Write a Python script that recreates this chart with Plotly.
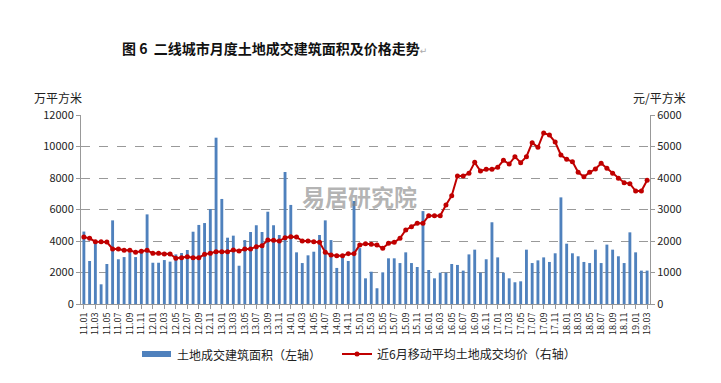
import plotly.graph_objects as go

months = [f"{y:02d}.{m:02d}" for y in range(11, 20) for m in range(1, 13)][:99]

area = [4600, 2730, 3950, 1250, 2540, 5310, 2840, 2980, 3280, 2980, 3320, 5690,
        2620, 2620, 2790, 2690, 3150, 3240, 3430, 4590, 5020, 5140, 6030, 10560,
        6670, 4210, 4340, 2430, 4060, 4570, 5000, 4570, 5860, 5000, 4380, 8380,
        6290, 3280, 2600, 3090, 3320, 4380, 5310, 4060, 2290, 2940, 2730, 6540,
        3550, 1630, 2050, 1000, 2010, 2900, 2900, 2600, 3280, 2600, 2350, 5900,
        2160, 1630, 1990, 1990, 2540, 2480, 2120, 3150, 3450, 1990, 2840, 5190,
        2960, 1990, 1630, 1380, 1440, 3450, 2600, 2770, 2960, 2670, 3220, 6770,
        3830, 3220, 3030, 2670, 2600, 3450, 2600, 3770, 3450, 3030, 2600, 4550,
        3280, 2120, 2120]

price = [2127, 2085, 1979, 1979, 1968, 1746, 1746, 1704, 1704, 1640, 1672, 1704,
         1608, 1608, 1587, 1587, 1450, 1471, 1503, 1471, 1471, 1577, 1608, 1661,
         1661, 1661, 1714, 1683, 1746, 1746, 1820, 1852, 2032, 2021, 2000, 2106,
         2138, 2127, 2000, 2000, 1979, 1958, 1640, 1556, 1534, 1534, 1598, 1598,
         1873, 1915, 1894, 1873, 1767, 1926, 1958, 2085, 2349, 2455, 2561, 2561,
         2804, 2804, 2804, 3143, 3439, 4063, 4063, 4148, 4497, 4222, 4275, 4275,
         4339, 4561, 4444, 4677, 4487, 4677, 5122, 4974, 5429, 5365, 5140, 4730,
         4593, 4519, 4180, 4042, 4180, 4286, 4466, 4307, 4148, 3989, 3852, 3820,
         3587, 3587, 3926]

left_ticks = [0, 2000, 4000, 6000, 8000, 10000, 12000]
right_ticks = [0, 1000, 2000, 3000, 4000, 5000, 6000]

title_text = "图 6  二线城市月度土地成交建筑面积及价格走势"
bar_name = "土地成交建筑面积（左轴）"
line_name = "近6月移动平均土地成交均价（右轴）"
watermark = "易居研究院"

FONT = "Noto Sans CJK SC, Noto Sans, DejaVu Sans"
BAR_COLOR = "#4F81BD"
LINE_COLOR = "#C00000"

W, H = 721, 383
L, R, T, B = 73, 79, 107, 87
PW, PH = W - L - R, H - T - B


def px(x):
    return (x - L) / PW


def py(y):
    return (H - B - y) / PH


fig = go.Figure()
fig.add_trace(go.Bar(x=months, y=area, name=bar_name, marker_color=BAR_COLOR,
                     marker_line_width=0, yaxis="y", showlegend=False))
fig.add_trace(go.Scatter(x=months, y=price, name=line_name, mode="lines+markers",
                         line=dict(color=LINE_COLOR, width=2),
                         marker=dict(color=LINE_COLOR, size=5), yaxis="y2"))

fig.update_layout(
    width=W, height=H,
    margin=dict(l=L, r=R, t=T, b=B, autoexpand=False),
    paper_bgcolor="white", plot_bgcolor="white",
    font=dict(family=FONT, size=11, color="#222"),
    bargap=0.5,
    showlegend=True,
    legend=dict(orientation="h", x=px(329), xanchor="left",
                y=py(346), yanchor="middle",
                font=dict(size=12, color="#222"), itemwidth=30,
                bgcolor="rgba(0,0,0,0)"),
    xaxis=dict(type="category", range=[-0.5, len(months) - 0.5],
               tickmode="array", tickvals=months[::2], ticktext=months[::2],
               tickangle=-90, tickfont=dict(size=9, color="#222"),
               showline=True, linecolor="#999", linewidth=1,
               ticks="outside", ticklen=4, tickcolor="#999", showgrid=False),
    yaxis=dict(range=[0, 12000], tickvals=left_ticks,
               ticktext=[str(v) for v in left_ticks], showline=True, linecolor="#999",
               ticks="outside", ticklen=4, tickcolor="#999",
               showgrid=True, gridcolor="#999", griddash="dash", gridwidth=1,
               zeroline=False, tickfont=dict(size=11, color="#222")),
    yaxis2=dict(range=[0, 6000], tickvals=right_ticks,
                ticktext=[str(v) for v in right_ticks], overlaying="y", side="right",
                showline=True, linecolor="#999", ticks="outside", ticklen=4,
                tickcolor="#999", showgrid=False, zeroline=False,
                tickfont=dict(size=11, color="#222")),
    shapes=[
        dict(type="rect", xref="paper", yref="paper", x0=px(134), x1=px(163),
             y0=py(349), y1=py(343), fillcolor=BAR_COLOR, line=dict(width=0)),
    ],
    annotations=[
        dict(text="<b>" + title_text + "</b>" + "<span style='color:#aaa;font-size:9px'>↵</span>",
             xref="paper", yref="paper", x=px(266), y=py(40),
             xanchor="center", yanchor="middle", showarrow=False,
             font=dict(size=14, color="#111", family=FONT)),
        dict(text="万平方米", xref="paper", yref="paper", x=px(50),
             y=py(90), xanchor="center", yanchor="middle",
             showarrow=False, font=dict(size=12, color="#222")),
        dict(text="元/平方米", xref="paper", yref="paper", x=px(651),
             y=py(90), xanchor="center", yanchor="middle",
             showarrow=False, font=dict(size=12, color="#222")),
        dict(text=bar_name, xref="paper", yref="paper", x=px(167),
             y=py(346), xanchor="left", yanchor="middle",
             showarrow=False, font=dict(size=12, color="#222")),
        dict(text="<b>" + watermark + "</b>", xref="paper", yref="paper",
             x=px(351), y=py(188), xanchor="center",
             yanchor="middle", showarrow=False,
             font=dict(size=23, color="rgba(130,130,130,0.6)", family=FONT)),
    ],
)

fig.write_html("out.html")
